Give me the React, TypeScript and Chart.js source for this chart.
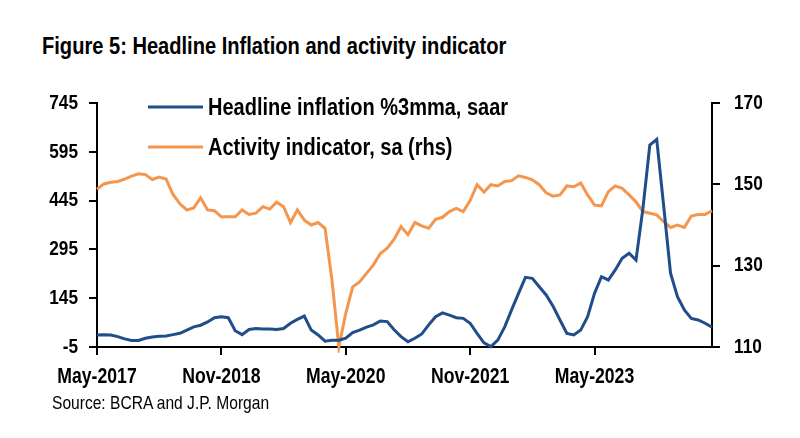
import React, { useEffect, useRef } from "react";
import { Chart, registerables } from "chart.js";

Chart.register(...registerables);

const MONTH_NAMES = ["Jan", "Feb", "Mar", "Apr", "May", "Jun", "Jul", "Aug", "Sep", "Oct", "Nov", "Dec"];
const START_YEAR = 2017;
const START_MONTH = 4; // May
const N_MONTHS = 90; // May-2017 .. Oct-2024

const categories: string[] = Array.from({ length: N_MONTHS }, (_, i) => {
  const m = START_MONTH + i;
  return `${MONTH_NAMES[m % 12]}-${START_YEAR + Math.floor(m / 12)}`;
});

const TICK_EVERY = 18;

const inflationLabel = "Headline inflation %3mma, saar";
const inflation: number[] = [
  32, 33, 32, 27, 20, 15, 15, 22, 26, 28,
  29, 33, 37, 47, 57, 62, 72, 85, 88, 85,
  45, 33, 49, 52, 50, 50, 49, 52, 68, 80,
  90, 47, 32, 13, 16, 16, 22, 39, 47, 56,
  63, 75, 73, 48, 27, 11, 22, 35, 63, 88,
  100, 93, 85, 83, 68, 37, 8, -4, 16, 57,
  109, 160, 209, 206, 180, 155, 120, 78, 37, 32,
  47, 88, 160, 211, 201, 232, 268, 283, 262, 420,
  616, 633, 430, 222, 150, 109, 83, 78, 68, 56,
];

const activityLabel = "Activity indicator, sa (rhs)";
const activity: number[] = [
  148.8, 150.1, 150.5, 150.7, 151.3, 152.0, 152.6, 152.4, 151.2, 151.8,
  151.3, 147.5, 145.2, 143.7, 144.2, 146.7, 143.7, 143.5, 142.0, 142.0,
  142.0, 143.7, 142.6, 142.9, 144.5, 143.9, 145.6, 144.5, 140.6, 143.7,
  141.2, 140.0, 140.6, 139.2, 126.5, 110.0, 118.3, 124.8, 126.0, 128.1,
  130.2, 133.0, 134.3, 136.5, 139.6, 137.6, 140.6, 139.8, 139.2, 141.4,
  141.9, 143.3, 144.1, 143.3, 146.0, 149.9, 148.1, 149.9, 149.6, 150.7,
  150.9, 152.1, 151.7, 151.1, 149.9, 147.9, 147.1, 147.4, 149.6, 149.4,
  150.3, 147.4, 144.9, 144.7, 148.2, 149.6, 149.0, 147.4, 145.7, 143.3,
  142.9, 142.5, 140.8, 139.4, 140.0, 139.4, 142.2, 142.6, 142.6, 143.5,
];

const LEFT_MIN = -5;
const LEFT_MAX = 745;
const LEFT_STEP = 150;
const RIGHT_MIN = 110;
const RIGHT_MAX = 170;
const RIGHT_STEP = 20;

const TITLE = "Figure 5: Headline Inflation and activity indicator";
const SOURCE = "Source: BCRA and J.P. Morgan";

const BLUE = "#1F4E8B";
const ORANGE = "#F5964E";
const FONT = '"Liberation Sans", Arial, sans-serif';
const NARROW = 0.82; // emulate a narrow (condensed) face

// Draw the library's own tick label items, horizontally condensed.
function condensedDrawLabels(this: any, chartArea: any) {
  const ctx = this.ctx;
  const items = this.getLabelItems(chartArea);
  for (const item of items) {
    const o = item.options;
    ctx.save();
    ctx.font = item.font.string;
    ctx.fillStyle = o.color;
    ctx.textAlign = o.textAlign;
    ctx.textBaseline = o.textBaseline;
    ctx.translate(o.translation[0], o.translation[1]);
    if (o.rotation) ctx.rotate(o.rotation);
    ctx.scale(NARROW, 1);
    const lines = Array.isArray(item.label) ? item.label : [item.label];
    let y = item.textOffset;
    for (const line of lines) {
      ctx.fillText(String(line), 0, y);
      y += item.font.lineHeight;
    }
    ctx.restore();
  }
}

const condensePlugin = {
  id: "condenseTicks",
  beforeDraw(chart: any) {
    Object.values(chart.scales).forEach((s: any) => {
      if (s.drawLabels !== condensedDrawLabels) s.drawLabels = condensedDrawLabels;
    });
  },
};

const legendPlugin = {
  id: "customLegend",
  afterDraw(chart: any) {
    const ctx = chart.ctx;
    const items = chart.data.datasets;
    const x0 = 148;
    const x1 = 203;
    const ys = [107, 147];
    ctx.save();
    items.forEach((ds: any, i: number) => {
      const y = ys[i];
      ctx.strokeStyle = ds.borderColor;
      ctx.lineWidth = 3;
      ctx.beginPath();
      ctx.moveTo(x0, y);
      ctx.lineTo(x1, y);
      ctx.stroke();
      ctx.save();
      ctx.fillStyle = "#000";
      ctx.font = `bold 24.4px ${FONT}`;
      ctx.textBaseline = "middle";
      ctx.textAlign = "left";
      ctx.translate(208, y + 1);
      ctx.scale(NARROW, 1);
      ctx.fillText(ds.label, 0, 0);
      ctx.restore();
    });
    ctx.restore();
  },
};

const axisGrid = {
  display: true,
  drawOnChartArea: false,
  drawTicks: true,
  tickLength: 8,
  color: "#000",
  lineWidth: 2,
};

export default function App() {
  const canvasRef = useRef<HTMLCanvasElement | null>(null);

  useEffect(() => {
    if (!canvasRef.current) return;
    const chart = new Chart(canvasRef.current, {
      type: "line",
      data: {
        labels: categories,
        datasets: [
          {
            label: inflationLabel,
            data: inflation,
            borderColor: BLUE,
            backgroundColor: BLUE,
            borderWidth: 3,
            pointRadius: 0,
            tension: 0,
            yAxisID: "yL",
            clip: 6,
          },
          {
            label: activityLabel,
            data: activity,
            borderColor: ORANGE,
            backgroundColor: ORANGE,
            borderWidth: 3,
            pointRadius: 0,
            tension: 0,
            yAxisID: "yR",
            clip: 6,
          },
        ],
      },
      options: {
        animation: false,
        responsive: true,
        maintainAspectRatio: false,
        layout: { padding: { top: 103, left: 0, right: 0, bottom: 0 } },
        plugins: {
          legend: { display: false },
          title: { display: false },
          tooltip: { enabled: false },
        },
        scales: {
          x: {
            type: "category",
            offset: false,
            afterFit: (s: any) => {
              s.height = 438 - 347;
            },
            grid: axisGrid,
            border: { display: true, color: "#000", width: 2 },
            ticks: {
              autoSkip: false,
              maxRotation: 0,
              minRotation: 0,
              padding: 9,
              color: "#000",
              font: { family: FONT, size: 21.5, weight: "bold" },
              callback: (_v: any, idx: number) => (idx % TICK_EVERY === 0 ? categories[idx] : null),
            },
          },
          yL: {
            type: "linear",
            position: "left",
            min: LEFT_MIN,
            max: LEFT_MAX,
            afterFit: (s: any) => {
              s.width = 97;
            },
            grid: axisGrid,
            border: { display: true, color: "#000", width: 2 },
            ticks: {
              stepSize: LEFT_STEP,
              padding: 11,
              color: "#000",
              font: { family: FONT, size: 21, weight: "bold" },
            },
          },
          yR: {
            type: "linear",
            position: "right",
            min: RIGHT_MIN,
            max: RIGHT_MAX,
            afterFit: (s: any) => {
              s.width = 800 - 712;
            },
            grid: axisGrid,
            border: { display: true, color: "#000", width: 2 },
            ticks: {
              stepSize: RIGHT_STEP,
              padding: 14,
              color: "#000",
              font: { family: FONT, size: 21, weight: "bold" },
            },
          },
        },
      },
      plugins: [condensePlugin, legendPlugin],
    });
    return () => chart.destroy();
  }, []);

  return (
    <div style={{ position: "fixed", left: 0, top: 0, width: 800, height: 438, background: "#fff", overflow: "hidden" }}>
      <div
        style={{
          position: "absolute",
          left: 42,
          top: 32,
          fontFamily: FONT,
          fontWeight: "bold",
          fontSize: 24.5,
          lineHeight: "28px",
          color: "#000",
          whiteSpace: "nowrap",
          transform: `scaleX(${NARROW})`,
          transformOrigin: "left top",
        }}
      >
        {TITLE}
      </div>
      <div style={{ position: "absolute", left: 0, top: 0, width: 800, height: 438 }}>
        <canvas ref={canvasRef} />
      </div>
      <div
        style={{
          position: "absolute",
          left: 52,
          top: 392,
          fontFamily: FONT,
          fontSize: 19,
          lineHeight: "22px",
          color: "#000",
          whiteSpace: "nowrap",
          transform: `scaleX(${NARROW})`,
          transformOrigin: "left top",
        }}
      >
        {SOURCE}
      </div>
    </div>
  );
}
